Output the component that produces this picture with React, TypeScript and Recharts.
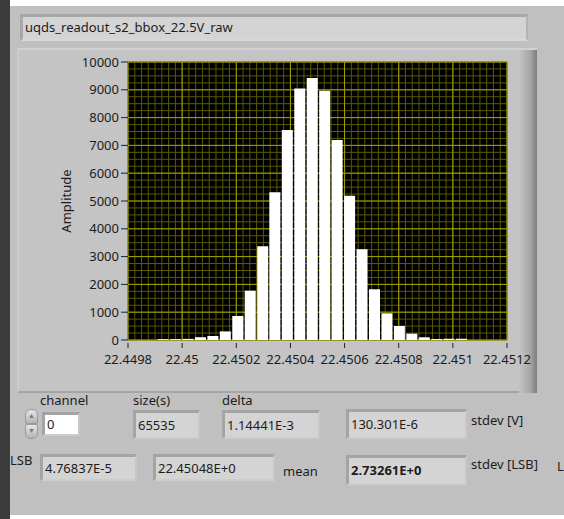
import React from "react";
import { ComposedChart, Bar, XAxis, YAxis, CartesianGrid } from "recharts";

// histogram bin centres [V] and counts
const binCenters = [
  22.449928, 22.449974, 22.45002, 22.450066, 22.450112, 22.450158, 22.450204,
  22.45025, 22.450296, 22.450341, 22.450387, 22.450433, 22.450479, 22.450525,
  22.450571, 22.450617, 22.450663, 22.450709, 22.450755, 22.450801, 22.450847,
  22.450893, 22.450939, 22.450984, 22.45103,
];
const counts = [
  30, 30, 40, 100, 145, 310, 865, 1775, 3375, 5318, 7551, 9050, 9424, 8966,
  7190, 5185, 3265, 1825, 960, 504, 228, 97, 36, 45, 45,
];
const xTicks = [22.4498, 22.45, 22.4502, 22.4504, 22.4506, 22.4508, 22.451, 22.4512];
const yTicks = [0, 1000, 2000, 3000, 4000, 5000, 6000, 7000, 8000, 9000, 10000];

const title = "uqds_readout_s2_bbox_22.5V_raw";

const X_DOMAIN = [22.4498, 22.4512];
const Y_DOMAIN = [0, 10000];

// minor grid: 8 divisions per x major, 4 per y major
const subdivide = (ticks: number[], n: number) => {
  const out: number[] = [];
  for (let i = 0; i < ticks.length - 1; i++) {
    for (let k = 0; k < n; k++) out.push(ticks[i] + ((ticks[i + 1] - ticks[i]) * k) / n);
  }
  out.push(ticks[ticks.length - 1]);
  return out;
};
const xMinor = subdivide(xTicks, 8);
const yMinor = subdivide(yTicks, 4);

const data = binCenters.map((x, i) => ({ x, count: counts[i] }));

// use the axis scale when it is callable, otherwise map linearly over the plot box
const applyScale = (axis: any, v: number, fallback: () => number) => {
  const s = axis && axis.scale;
  if (typeof s === "function") return s(v);
  if (s && typeof s.map === "function") return s.map(v);
  return fallback();
};

const FONT = "'Noto Sans', sans-serif";
const TEXT = "#1c1c1c";

const XTick = (props: any) => {
  const { x, y, payload } = props;
  return (
    <g>
      <line x1={x} x2={x} y1={y + 3} y2={y + 8} stroke="#222" />
      <text x={x} y={y + 24} textAnchor="middle" fill={TEXT} fontSize={13} fontFamily={FONT}>
        {String(payload.value)}
      </text>
    </g>
  );
};

const AmpLabel = (props: any) => {
  const { viewBox } = props;
  const cx = viewBox.x + 49;
  const cy = viewBox.y + viewBox.height / 2;
  return (
    <text
      x={cx}
      y={cy}
      transform={`rotate(-90 ${cx} ${cy})`}
      textAnchor="middle"
      dominantBaseline="central"
      fill={TEXT}
      fontSize={13}
      fontFamily={FONT}
    >
      Amplitude
    </text>
  );
};

const Indicator = ({ left, top, width, height, text, bold, white }: any) => (
  <div
    style={{
      position: "absolute",
      left,
      top,
      width,
      height,
      boxSizing: "border-box",
      background: white ? "#ffffff" : "#d4d4d4",
      borderTop: "3px solid #a4a4a4",
      borderLeft: "3px solid #a4a4a4",
      borderRight: "2px solid #c8c8c8",
      borderBottom: "2px solid #cdcdcd",
      fontFamily: FONT,
      fontSize: 13,
      fontWeight: bold ? 700 : 400,
      color: TEXT,
      lineHeight: `${height - 5}px`,
      paddingLeft: 2,
      whiteSpace: "nowrap",
    }}
  >
    {text}
  </div>
);

const Label = ({ left, top, text }: any) => (
  <div
    style={{
      position: "absolute",
      left,
      top,
      fontFamily: FONT,
      fontSize: 13,
      lineHeight: "16px",
      color: TEXT,
      whiteSpace: "nowrap",
    }}
  >
    {text}
  </div>
);

const spinBtn = (top: number, radius: string, glyph: string) => (
  <div
    style={{
      position: "absolute",
      left: 25,
      top,
      width: 13,
      height: 15,
      boxSizing: "border-box",
      borderRadius: radius,
      background: "linear-gradient(#e6e6e6, #b4b4b4)",
      border: "1px solid #9a9a9a",
      fontSize: 7,
      color: "#777",
      textAlign: "center",
      lineHeight: "13px",
    }}
  >
    {glyph}
  </div>
);

export default function App() {
  return (
    <div
      style={{
        position: "fixed",
        left: 0,
        top: 0,
        width: 564,
        height: 519,
        background: "#ffffff",
        overflow: "hidden",
      }}
    >
      {/* panel */}
      <div style={{ position: "absolute", left: 10, top: 6, width: 554, height: 509, background: "#c0c0c0" }} />
      <div style={{ position: "absolute", left: 0, top: 0, width: 10, height: 519, background: "#3b3b3b" }} />

      {/* title string */}
      <div
        style={{
          position: "absolute",
          left: 20,
          top: 14,
          width: 508,
          height: 27,
          boxSizing: "border-box",
          background: "#d4d4d4",
          borderTop: "3px solid #a8a8a8",
          borderLeft: "3px solid #a8a8a8",
          borderRight: "2px solid #b4b4b4",
          borderBottom: "2px solid #d8d8d8",
          fontFamily: FONT,
          fontSize: 13,
          lineHeight: "21px",
          paddingLeft: 2,
          color: TEXT,
        }}
      >
        {title}
      </div>

      {/* graph frame */}
      <div
        style={{
          position: "absolute",
          left: 17,
          top: 48,
          width: 520,
          height: 345,
          boxSizing: "border-box",
          background: "#c4c4c4",
          borderTop: "2px solid #d2d2d2",
          borderLeft: "2px solid #cdcdcd",
          borderBottom: "2px solid #a4a4a4",
        }}
      />
      <div
        style={{
          position: "absolute",
          left: 519,
          top: 50,
          width: 18,
          height: 343,
          background: "linear-gradient(to right, #c4c4c4, #a8a8a8 60%, #7c7c7c)",
        }}
      />

      <div style={{ position: "absolute", left: 17, top: 48 }}>
        <ComposedChart
          width={520}
          height={345}
          data={data}
          margin={{ top: 14, right: 30, bottom: 23, left: 0 }}
          barCategoryGap={0}
        >
          <XAxis
            dataKey="x"
            type="number"
            domain={X_DOMAIN}
            ticks={xTicks}
            allowDataOverflow
            axisLine={false}
            tickLine={false}
            tickSize={0}
            tickMargin={0}
            height={30}
            interval={0}
            tick={<XTick />}
          />
          <YAxis
            type="number"
            domain={Y_DOMAIN}
            ticks={yTicks}
            interval={0}
            width={111}
            axisLine={false}
            tickSize={7}
            tickMargin={2}
            tickLine={{ stroke: "#222" }}
            tick={{ fill: TEXT, fontSize: 13, fontFamily: FONT }}
            label={<AmpLabel />}
          />
          <CartesianGrid
            stroke="#5a5a00"
            fill="#000000"
            fillOpacity={1}
            verticalCoordinatesGenerator={({ xAxis, offset }: any) =>
              xMinor.map((v) =>
                applyScale(xAxis, v, () =>
                  offset.left + ((v - X_DOMAIN[0]) / (X_DOMAIN[1] - X_DOMAIN[0])) * offset.width
                )
              )
            }
            horizontalCoordinatesGenerator={({ yAxis, offset }: any) =>
              yMinor.map((v) =>
                applyScale(yAxis, v, () =>
                  offset.top + (1 - (v - Y_DOMAIN[0]) / (Y_DOMAIN[1] - Y_DOMAIN[0])) * offset.height
                )
              )
            }
          />
          <CartesianGrid stroke="#a0a000" />
          <Bar dataKey="count" fill="#ffffff" barSize={11} isAnimationActive={false} />
        </ComposedChart>
      </div>

      {/* controls below the graph */}
      <Label left={40} top={392} text="channel" />
      <Label left={133} top={392} text="size(s)" />
      <Label left={222} top={392} text="delta" />

      {spinBtn(409, "6px 6px 2px 2px", "▲")}
      {spinBtn(424, "2px 2px 6px 6px", "▼")}
      <Indicator left={42} top={412} width={38} height={24} text="0" white />
      <Indicator left={133} top={410} width={67} height={29} text="65535" />
      <Indicator left={222} top={410} width={98} height={29} text="1.14441E-3" />
      <Indicator left={346} top={409} width={121} height={30} text="130.301E-6" />
      <Label left={471} top={412} text="stdev [V]" />

      <Label left={10} top={452} text="LSB" />
      <Indicator left={40} top={454} width={97} height={27} text="4.76837E-5" />
      <Indicator left={153} top={454} width={122} height={27} text="22.45048E+0" />
      <Label left={283} top={463} text="mean" />
      <Indicator left={346} top={455} width={121} height={30} text="2.73261E+0" bold />
      <Label left={471} top={456} text="stdev [LSB]" />
      <Label left={557} top={458} text="L" />
    </div>
  );
}
